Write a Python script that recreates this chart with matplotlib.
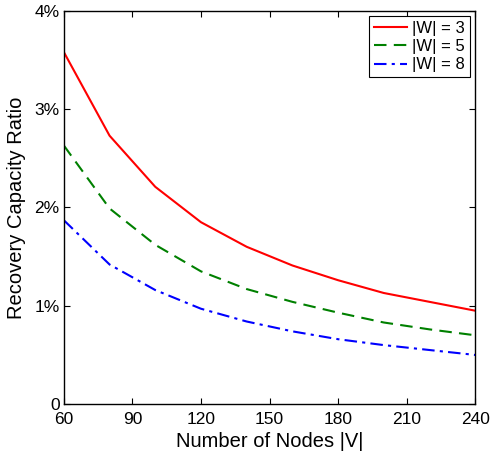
import numpy as np
import matplotlib
matplotlib.use('Agg')
import matplotlib.pyplot as plt

# nombre de noeuds |V|
nodes = [60, 80, 100, 120, 140, 160, 180, 200, 220, 240]
# ratio de capacite de recuperation (%)
w3 = [3.58, 2.73, 2.21, 1.85, 1.60, 1.41, 1.26, 1.13, 1.04, 0.95]
w5 = [2.63, 1.99, 1.62, 1.35, 1.17, 1.04, 0.93, 0.83, 0.76, 0.70]
w8 = [1.87, 1.42, 1.16, 0.97, 0.84, 0.74, 0.66, 0.60, 0.55, 0.50]

xticks = [60, 90, 120, 150, 180, 210, 240]
yticks = [0, 1, 2, 3, 4]
ylabels = ['0', '1%', '2%', '3%', '4%']

plt.rcParams['font.family'] = ['Liberation Sans', 'DejaVu Sans']

fig = plt.figure(figsize=(4.95, 4.51), dpi=100)
ax = fig.add_axes([0.129, 0.104, 0.831, 0.872])

ax.plot(nodes, w3, '-', color='red', lw=1.5, label='|W| = 3')
ax.plot(nodes, w5, '--', color='green', lw=1.5, dashes=(6, 3.5), label='|W| = 5')
ax.plot(nodes, w8, '-.', color='blue', lw=1.5, dashes=(6, 2.5, 1.5, 2.5), label='|W| = 8')

ax.set_xlim(60, 240)
ax.set_ylim(0, 4)
ax.set_xticks(xticks)
ax.set_yticks(yticks)
ax.set_yticklabels(ylabels)
ax.tick_params(direction='in', top=True, right=True, labelsize=12.5, length=4)
ax.tick_params(axis='x', pad=6)
ax.tick_params(axis='y', pad=3)
# le "0" remonte un peu pour ne pas toucher le "60"
ax.get_yticklabels()[0].set_verticalalignment('center_baseline')
for s in ax.spines.values():
    s.set_linewidth(1.0)

ax.set_xlabel('Number of Nodes |V|', fontsize=14.5, labelpad=3)
ax.set_ylabel('Recovery Capacity Ratio', fontsize=14.5, labelpad=6)

leg = ax.legend(loc='upper right', fontsize=12, fancybox=False, framealpha=1,
                borderaxespad=0.3, handlelength=2.0, handletextpad=0.3,
                labelspacing=0.2, borderpad=0.3)
leg.get_frame().set_edgecolor('black')
leg.get_frame().set_linewidth(0.8)

fig.savefig('out.png', dpi=100)
